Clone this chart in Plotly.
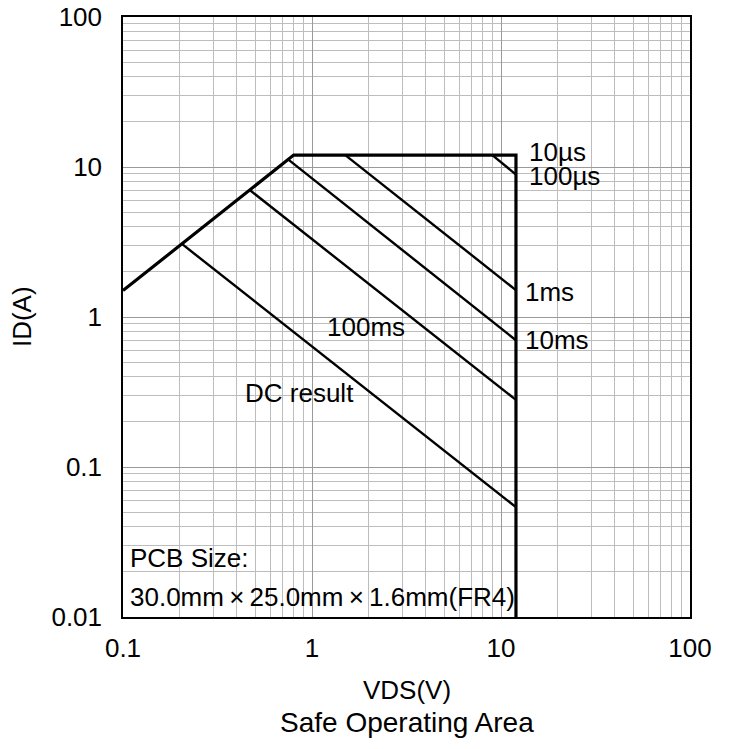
import plotly.graph_objects as go

# Boundary: Ron limit, 12 A current limit (10us), VDS max 12 V
boundary_v = [0.1, 0.8, 12, 12]
boundary_i = [1.5, 12, 12, 0.01]

# Pulse-width limited lines (start on boundary, end at VDS = 12 V)
p100us_v = [9.0, 12]
p100us_i = [12, 8.9]
p1ms_v = [1.5, 12]
p1ms_i = [12, 1.51]
p10ms_v = [0.75, 12]
p10ms_i = [11.2, 0.70]
p100ms_v = [0.47, 12]
p100ms_i = [7.0, 0.28]
dc_v = [0.205, 12]
dc_i = [3.07, 0.054]

x_ticks = [0.1, 1, 10, 100]
x_tick_text = ["0.1", "1", "10", "100"]
y_ticks = [0.01, 0.1, 1, 10, 100]
y_tick_text = ["0.01", "0.1", "1", "10", "100"]

FONT = "Liberation Sans, Arial, sans-serif"

x_minor = [m * d for d in (0.1, 1, 10) for m in range(2, 10)]
y_minor = [m * d for d in (0.01, 0.1, 1, 10) for m in range(2, 10)]

fig = go.Figure()
fig.add_trace(go.Scatter(x=boundary_v, y=boundary_i, mode="lines",
                         line=dict(color="black", width=3.2), hoverinfo="skip"))
for vx, iy in [(p100us_v, p100us_i), (p1ms_v, p1ms_i), (p10ms_v, p10ms_i),
               (p100ms_v, p100ms_i), (dc_v, dc_i)]:
    fig.add_trace(go.Scatter(x=vx, y=iy, mode="lines",
                             line=dict(color="black", width=2.4), hoverinfo="skip"))

axis_common = dict(
    type="log", automargin=False, ticklabeloverflow="allow",
    showline=True, mirror=True, linecolor="black", linewidth=1.5,
    showgrid=True, gridcolor="#9a9a9a", gridwidth=1,
    ticks="", zeroline=False,
    tickfont=dict(family=FONT, size=26, color="black"),
)

fig.update_xaxes(range=[-1, 2], tickvals=x_ticks, ticktext=x_tick_text,
                 ticklabelstandoff=7,
                 minor=dict(tickvals=x_minor, showgrid=True, gridcolor="#bdbdbd",
                            gridwidth=1, ticks=""),
                 **axis_common)
fig.update_yaxes(range=[-2, 2], tickvals=y_ticks, ticktext=y_tick_text,
                 ticklabelstandoff=14,
                 minor=dict(tickvals=y_minor, showgrid=True, gridcolor="#bdbdbd",
                            gridwidth=1, ticks=""),
                 **axis_common)

TS = "\u2009"
labels = [
    ("10µs", 1.138, 1.10),
    ("100µs", 1.138, 0.937),
    ("1ms", 1.116, 0.167),
    ("10ms", 1.116, -0.153),
    ("100ms", 0.069, -0.067),
    ("DC result", -0.365, -0.507),
    ("PCB Size:", -0.974, -1.607),
    ("30.0mm" + TS + "×" + TS + "25.0mm" + TS + "×" + TS + "1.6mm(FR4)", -0.974, -1.867),
]
for text, xl, yl in labels:
    fig.add_annotation(x=xl, y=yl, xref="x", yref="y", text=text, showarrow=False,
                       xanchor="left", yanchor="middle",
                       font=dict(family=FONT, size=26, color="black"))

fig.add_annotation(x=0.5, y=-0.1217, xref="paper", yref="paper", text="VDS(V)",
                   showarrow=False, xanchor="center", yanchor="middle",
                   font=dict(family=FONT, size=26, color="black"))
fig.add_annotation(x=0.5, y=-0.175, xref="paper", yref="paper", text="Safe Operating Area",
                   showarrow=False, xanchor="center", yanchor="middle",
                   font=dict(family=FONT, size=28, color="black"))
fig.add_annotation(x=-0.178, y=0.5, xref="paper", yref="paper", text="ID(A)",
                   showarrow=False, xanchor="center", yanchor="middle", textangle=-90,
                   font=dict(family=FONT, size=26, color="black"))

fig.update_layout(
    width=739, height=749,
    margin=dict(l=123, r=49, t=17, b=132),
    paper_bgcolor="white", plot_bgcolor="white",
    showlegend=False,
)

fig.write_html("out.html",
               config={"displayModeBar": False},
               post_script="document.body.style.margin='0px';document.body.style.overflow='hidden';")
